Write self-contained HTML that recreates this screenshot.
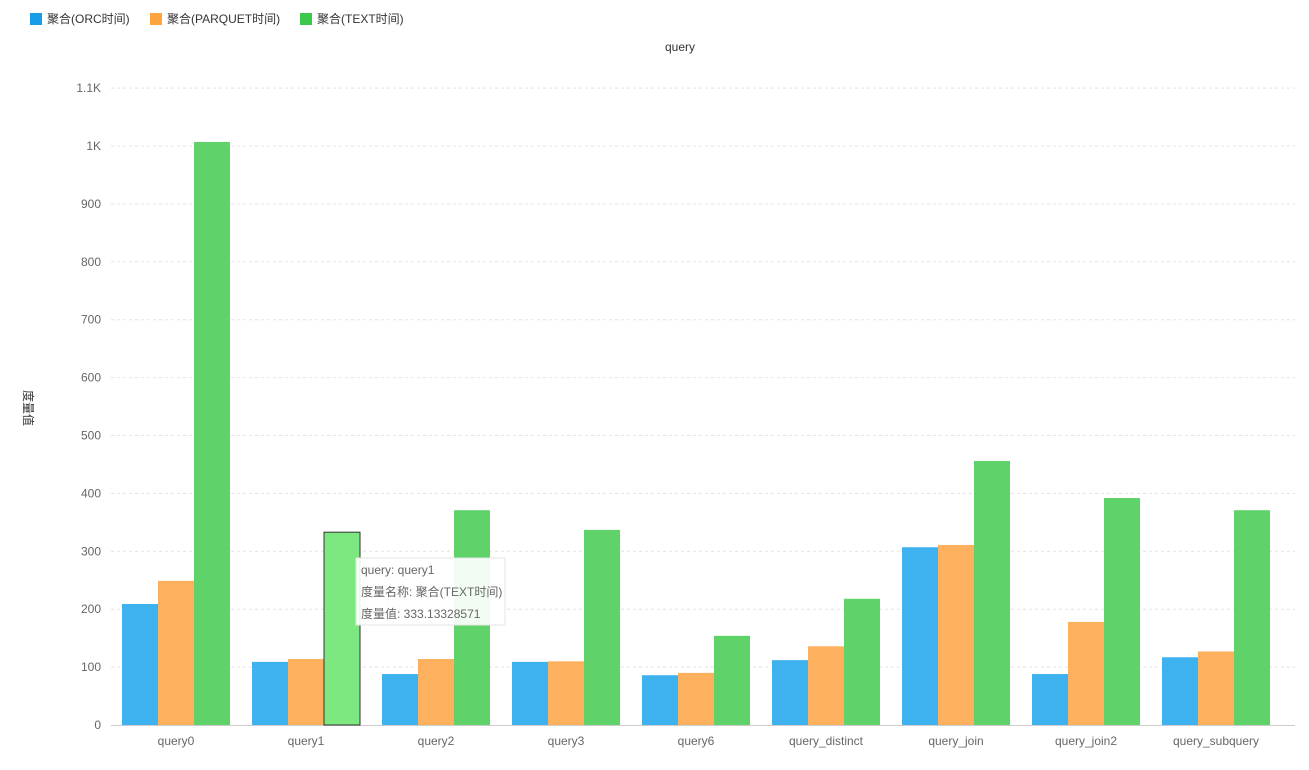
<!DOCTYPE html>
<html><head><meta charset="utf-8"><style>
body{margin:0;background:#fff;font-family:"Liberation Sans","Noto Sans CJK SC",sans-serif;}
svg text{font-family:"Liberation Sans","Noto Sans CJK SC",sans-serif;}
</style></head><body>
<svg id="c" width="1309" height="765">
<g>
<g><rect x="30" y="13" width="12" height="12" fill="#1a9de8"/><text x="47" y="23" font-size="12" fill="#333">聚合(ORC时间)</text></g>
<g><rect x="150" y="13" width="12" height="12" fill="#fca53f"/><text x="167" y="23" font-size="12" fill="#333">聚合(PARQUET时间)</text></g>
<g><rect x="300" y="13" width="12" height="12" fill="#3cc84a"/><text x="317" y="23" font-size="12" fill="#333">聚合(TEXT时间)</text></g>
</g>
<text x="680" y="51" font-size="12" fill="#333" text-anchor="middle">query</text>
<text x="0" y="0" font-size="12" fill="#333" transform="translate(24,408) rotate(90)" text-anchor="middle">度量值</text>
<g id="grid"></g><g id="bars"></g><g id="xl"></g>
<g>
<rect x="356" y="558" width="149" height="67" fill="rgba(255,255,255,0.92)" stroke="#e5e5e5"/>
<text x="361" y="574" font-size="12" fill="#666">query: query1</text>
<text x="361" y="596" font-size="12" fill="#666">度量名称: 聚合(TEXT时间)</text>
<text x="361" y="618" font-size="12" fill="#666">度量值: 333.13328571</text>
</g>
</svg>
<script>
const categories=["query0","query1","query2","query3","query6","query_distinct","query_join","query_join2","query_subquery"];
const orc=[209,109,88,109,86,112,307,88,117];
const parquet=[249,114,114,110,90,136,311,178,127];
const textT=[1007,333,371,337,154,218,456,392,371];
const ticks=[0,100,200,300,400,500,600,700,800,900,1000,1100];
const tickLabels=["0","100","200","300","400","500","600","700","800","900","1K","1.1K"];
const NS="http://www.w3.org/2000/svg";
const y=v=>725-v*0.579;
const x0=111,bw=130;
function mk(t,a,p){const e=document.createElementNS(NS,t);for(const k in a)e.setAttribute(k,a[k]);p.appendChild(e);return e;}
const grid=document.getElementById('grid');
ticks.forEach((t,i)=>{
 if(t>0){const l=mk('line',{x1:111,x2:1295,y1:y(t),y2:y(t),stroke:'#e3e3e3','stroke-dasharray':'3,3'},grid);
 
 }
 const tx=mk('text',{x:101,y:y(t)+4,'font-size':12,fill:'#666','text-anchor':'end'},grid);
 tx.textContent=tickLabels[i];
 
 
});
const ax=mk('line',{x1:111,x2:1295,y1:725.5,y2:725.5,stroke:'#ccc'},grid);


const bars=document.getElementById('bars'),xl=document.getElementById('xl');
const series=[[orc,'#3eb1ef','orc'],[parquet,'#fdb05e','parquet'],[textT,'#5fd36a','text']];
categories.forEach((c,i)=>{
 const cx=x0+bw*i+bw/2;
 series.forEach((s,j)=>{
  const v=s[0][i];const hl=(i===1&&j===2);
  const r=mk('rect',{x:cx-54+36*j,y:y(v),width:36,height:725-y(v),fill:hl?'#7ce87f':s[1]},bars);
  if(hl){r.setAttribute('stroke','#333');r.setAttribute('stroke-width','1');}
  
  
 });
 const t=mk('text',{x:cx,y:745,'font-size':12,fill:'#666','text-anchor':'middle'},xl);
 t.textContent=c;
 
 
});
</script>
</body></html>
